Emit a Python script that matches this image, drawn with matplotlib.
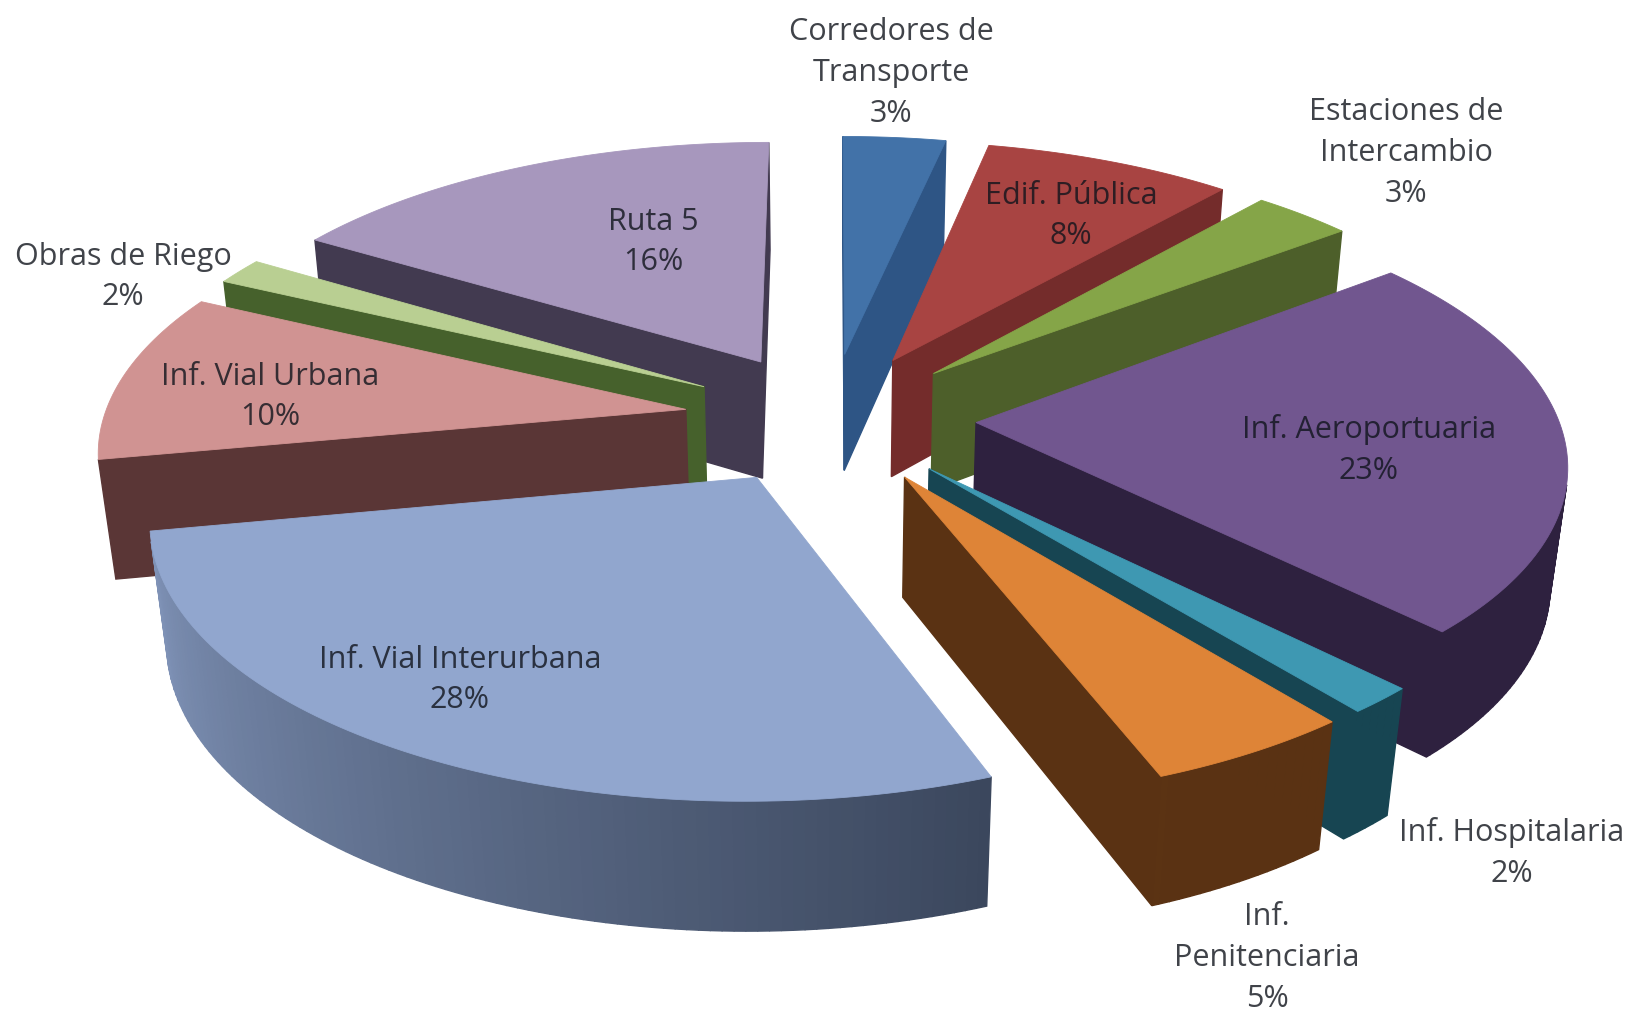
import numpy as np
import matplotlib
matplotlib.use('Agg')
import matplotlib.pyplot as plt

plt.rcParams['font.family'] = ['Open Sans', 'DejaVu Sans']

# Data, clockwise from 12 o'clock (labels show them rounded)
categories = ['Corredores de\nTransporte', 'Edif. Pública', 'Estaciones de\nIntercambio',
              'Inf. Aeroportuaria', 'Inf. Hospitalaria', 'Inf.\nPenitenciaria',
              'Inf. Vial Interurbana', 'Inf. Vial Urbana', 'Obras de Riego', 'Ruta 5']
values = [3.3, 8, 3.2, 23.2, 1.6, 4.9, 27.8, 10.2, 1.6, 16.2]

top_colors = ['#4272A8', '#A84442', '#85A548', '#71568F', '#3E98B2',
              '#DE8437', '#91A6CE', '#D09392', '#B9CF92', '#A797BD']
wall_colors = ['#2E5585', '#742C2B', '#4D5F2A', '#2E213F', '#174552',
               '#5A3213', '#3A465C', '#5A3636', '#46612C', '#423A50']

# label centres in pixels
label_x = [891, 1071, 1406, 1369, 1512, 1267, 460, 270, 123, 653]
label_y = [73, 216, 153, 450, 853, 958, 680, 397, 277, 242]

# projection settings (pixels)
cx, cy = 830, 418
A, B, H = 582, 263, 121
explode = 0.251
k, m = 0.134, 0.024


def project(X, near, z):
    s = 1 / (1 - k * near + m * z)
    return cx + A * X * s, cy + (B * near + H * z) * s


def mix(c1, c2, t):
    a = np.array(matplotlib.colors.to_rgb(c1))
    b = np.array(matplotlib.colors.to_rgb(c2))
    return tuple(a + (b - a) * t)


def shade(theta, wall, top):
    # light comes from the left, only really seen on the big front slice
    t = np.clip((theta - 158) / 112, 0, 1) * 0.9
    return mix(wall, top, t)


fig = plt.figure(figsize=(16.29, 10.13), dpi=100)
ax = fig.add_axes([0, 0, 1, 1])
ax.set_xlim(0, 1629)
ax.set_ylim(1013, 0)
ax.axis('off')

edges = np.cumsum([0] + values) / sum(values) * 360
mids = (edges[:-1] + edges[1:]) / 2


def draw_quad(a, b, color, z_order):
    # a, b are (X, near); back faces are skipped
    xs, ys = zip(project(a[0], a[1], 0), project(b[0], b[1], 0),
                 project(b[0], b[1], 1), project(a[0], a[1], 1))
    area = sum(xs[i] * ys[(i + 1) % 4] - xs[(i + 1) % 4] * ys[i] for i in range(4))
    if area < 0:
        ax.fill(xs, ys, color=color, lw=1.0, zorder=z_order)


# far slices first
order = np.argsort(-np.cos(np.radians(mids)))
for n, i in enumerate(order):
    mid = np.radians(mids[i])
    ax0 = explode * np.sin(mid)
    an0 = -explode * np.cos(mid)
    thetas = np.arange(edges[i], edges[i + 1], 1.0)
    thetas = np.append(thetas, edges[i + 1])
    rad = np.radians(thetas)
    ox = ax0 + np.sin(rad)
    on = an0 - np.cos(rad)

    draw_quad((ax0, an0), (ox[0], on[0]), wall_colors[i], n)
    for j in range(len(thetas) - 1):
        c = shade((thetas[j] + thetas[j + 1]) / 2, wall_colors[i], top_colors[i])
        draw_quad((ox[j], on[j]), (ox[j + 1], on[j + 1]), c, n)
    draw_quad((ox[-1], on[-1]), (ax0, an0), wall_colors[i], n)

    px, py = project(np.r_[ax0, ox], np.r_[an0, on], 0)
    ax.fill(px, py, color=top_colors[i], lw=0.6, zorder=n + 0.5)

for name, v, x, y in zip(categories, values, label_x, label_y):
    ax.text(x, y, f'{name}\n{round(v)}%', ha='center', va='center', fontsize=22,
            linespacing=1.47, color='#10141c', alpha=0.8, zorder=50)

fig.savefig('out.png', dpi=100)
